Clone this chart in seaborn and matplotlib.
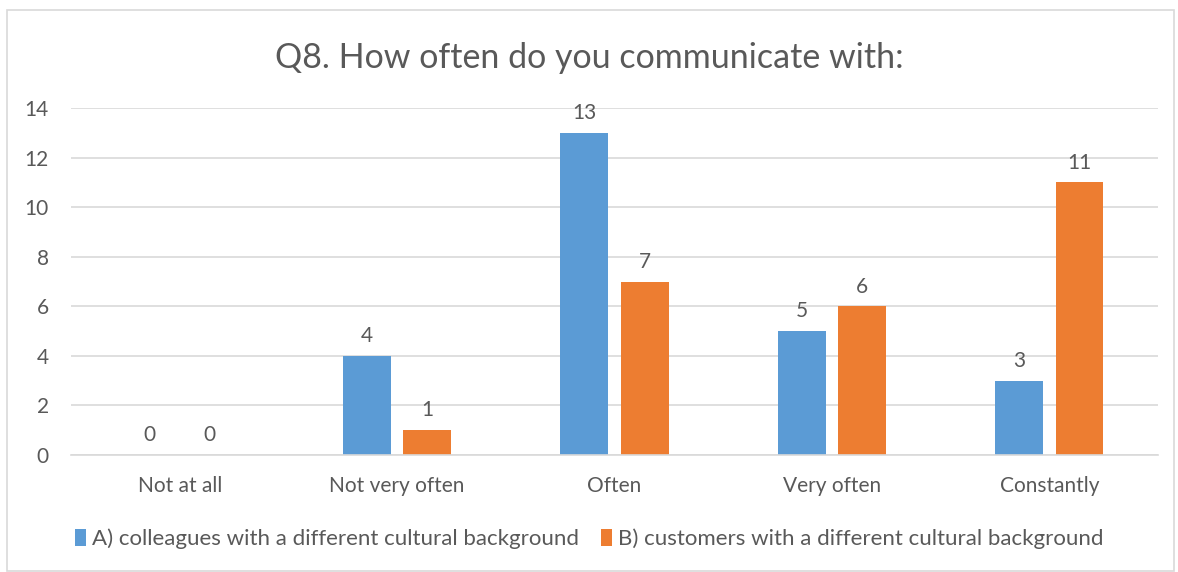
import matplotlib
matplotlib.use("Agg")
import matplotlib.pyplot as plt
import seaborn as sns
import pandas as pd
from matplotlib.patches import Rectangle

categories = ["Not at all", "Not very often", "Often", "Very often", "Constantly"]
series_names = ["A) colleagues with a different cultural background",
                "B) customers with a different cultural background"]
colleagues = [0, 4, 13, 5, 3]
customers = [0, 1, 7, 6, 11]
yticks = [0, 2, 4, 6, 8, 10, 12, 14]
title = "Q8. How often do you communicate with:"

df = pd.DataFrame({
    "category": categories * 2,
    "series": [series_names[0]] * len(categories) + [series_names[1]] * len(categories),
    "value": colleagues + customers,
})

sns.set_theme(style="white")
plt.rcParams['font.family'] = ['Lato', 'DejaVu Sans']
text_color = "#595959"
colors = ["#5B9BD5", "#ED7D31"]

fig = plt.figure(figsize=(11.78, 5.72), dpi=100)
fig.patches.append(Rectangle((7 / 1178, 0.002), 1 - 11 / 1178, 0.98, transform=fig.transFigure,
                             fill=False, edgecolor="#D9D9D9", linewidth=1.2))
ax = fig.add_axes([71 / 1178, 1 - 455 / 572, 1087 / 1178, 347 / 572])

sns.barplot(data=df, x="category", y="value", hue="series", order=categories,
            hue_order=series_names, palette=colors, width=0.556, gap=0.21,
            saturation=1, linewidth=0, ax=ax, legend=True)

for container in ax.containers:
    ax.bar_label(container, labels=[f"{int(v)}" for v in container.datavalues],
                 padding=7, fontsize=15, color=text_color)

ax.set_ylim(0, 14)
ax.set_yticks(yticks)
ax.set_xlim(-0.5, len(categories) - 0.5)
ax.yaxis.grid(True, color="#D9D9D9", linewidth=1.2)
ax.set_axisbelow(True)
for s in ["top", "right", "left"]:
    ax.spines[s].set_visible(False)
ax.spines["bottom"].set_color("#D9D9D9")
ax.spines["bottom"].set_linewidth(1.2)
ax.tick_params(axis="both", length=0, labelsize=15, colors=text_color)
ax.tick_params(axis="y", pad=16)
ax.tick_params(axis="x", pad=15)
ax.set_xlabel("")
ax.set_ylabel("")

fig.text(0.5, 1 - 58 / 572, title, ha="center", va="center", fontsize=24.5, color=text_color)

handles, labels = ax.get_legend_handles_labels()
ax.legend_.remove()
fig.legend(handles, labels, loc="center", bbox_to_anchor=(0.5, 1 - 539 / 572), ncol=2,
           frameon=False, fontsize=16, labelcolor=text_color, handlelength=0.5, handleheight=0.8,
           handletextpad=0.25, columnspacing=1.0)

fig.savefig("out.png", dpi=100)
